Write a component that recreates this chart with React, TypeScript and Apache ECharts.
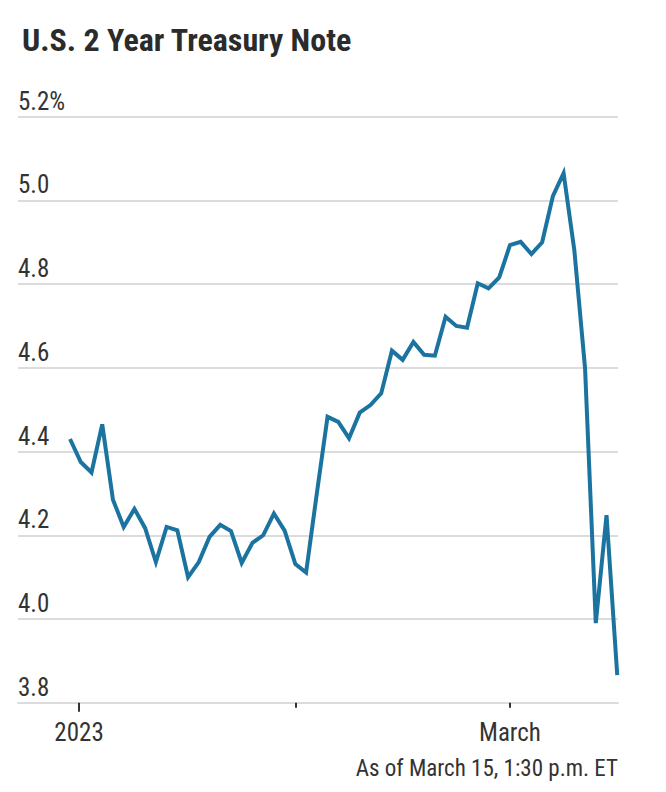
import React, { useEffect, useRef } from "react";
import * as echarts from "echarts";

const titleText = "U.S. 2 Year Treasury Note";
const footnote = "As of March 15, 1:30 p.m. ET";

// Daily closing yields, trading days from Dec 30, 2022 to Mar 15, 2023 (percent)
const yields = [
  4.43, 4.375, 4.35, 4.465, 4.285, 4.22, 4.263, 4.217, 4.136, 4.22,
  4.212, 4.1, 4.136, 4.196, 4.225, 4.21, 4.134, 4.182, 4.2, 4.252,
  4.211, 4.131, 4.111, 4.3, 4.483, 4.471, 4.432, 4.493, 4.511, 4.539,
  4.641, 4.619, 4.662, 4.631, 4.629, 4.722, 4.7, 4.696, 4.802, 4.79,
  4.816, 4.893, 4.901, 4.872, 4.9, 5.01, 5.065, 4.881, 4.599, 3.99,
  4.248, 3.866,
];

// x-axis ticks (in trading-day index units)
const yearTick = [0.84];
const monthTicks = [21, 41];
const xLabelValues = [0.84, 41];
const xLabelTexts = ["2023", "March"];

const yMin = 3.8;
const yMax = 5.2;
const yStep = 0.2;

const FONT = "'Liberation Sans Narrow', 'Roboto Condensed', 'DejaVu Sans Condensed', Roboto, sans-serif";

export default function App() {
  const ref = useRef<HTMLDivElement>(null);
  useEffect(() => {
    if (!ref.current) return;
    const chart = echarts.init(ref.current, null, { renderer: "svg" });
    const data = yields.map((v, i) => [i, v]);
    const xMin = -4.85;
    const xMax = 51.07;
    chart.setOption({
      animation: false,
      backgroundColor: "#ffffff",
      title: {
        text: titleText,
        left: 17,
        top: 19,
        textStyle: {
          fontFamily: FONT,
          fontWeight: "bold",
          fontSize: 32,
          color: "#2b2b2b",
        },
      },
      grid: { left: 18, right: 48, top: 116.7, bottom: 89.3, containLabel: false },
      xAxis: [
        {
          type: "value",
          min: xMin,
          max: xMax,
          splitLine: { show: false },
          axisLine: { show: true, lineStyle: { color: "#dcdcdc", width: 2 } },
          axisTick: {
            show: true,
            customValues: monthTicks,
            length: 5,
            lineStyle: { color: "#333333", width: 2 },
          },
          axisLabel: {
            show: true,
            customValues: xLabelValues,
            margin: 17,
            fontFamily: FONT,
            fontSize: 25,
            color: "#333333",
            formatter: (v: number) => {
              const idx = xLabelValues.findIndex((x) => Math.abs(x - v) < 0.01);
              return idx >= 0 ? xLabelTexts[idx] : "";
            },
          },
        },
        {
          type: "value",
          min: xMin,
          max: xMax,
          position: "bottom",
          splitLine: { show: false },
          axisLine: { show: false },
          axisTick: {
            show: true,
            customValues: yearTick,
            length: 9,
            lineStyle: { color: "#333333", width: 2 },
          },
          axisLabel: { show: false },
        },
      ],
      yAxis: {
        type: "value",
        min: yMin,
        max: yMax,
        interval: yStep,
        axisLine: { show: false },
        axisTick: { show: false },
        splitLine: { show: true, lineStyle: { color: "#dcdcdc", width: 2 } },
        axisLabel: {
          inside: true,
          margin: 0,
          align: "left",
          verticalAlign: "bottom",
          padding: [0, 0, 3, 0],
          fontFamily: FONT,
          fontSize: 25,
          color: "#333333",
          formatter: (v: number) => {
            const s = v.toFixed(1);
            return Math.abs(v - yMax) < 1e-6 ? s + "%" : s;
          },
        },
      },
      series: [
        {
          type: "line",
          xAxisIndex: 0,
          data,
          showSymbol: false,
          symbol: "none",
          lineStyle: { color: "#1b73a0", width: 4, join: "miter" },
          silent: true,
        },
      ],
      graphic: [
        {
          type: "text",
          right: 48,
          top: 757,
          style: {
            text: footnote,
            fontFamily: FONT,
            fontSize: 23,
            fill: "#333333",
          },
        },
      ],
    });
    return () => chart.dispose();
  }, []);
  return (
    <div
      ref={ref}
      style={{ position: "absolute", left: 0, top: 0, width: 666, height: 792 }}
    />
  );
}
